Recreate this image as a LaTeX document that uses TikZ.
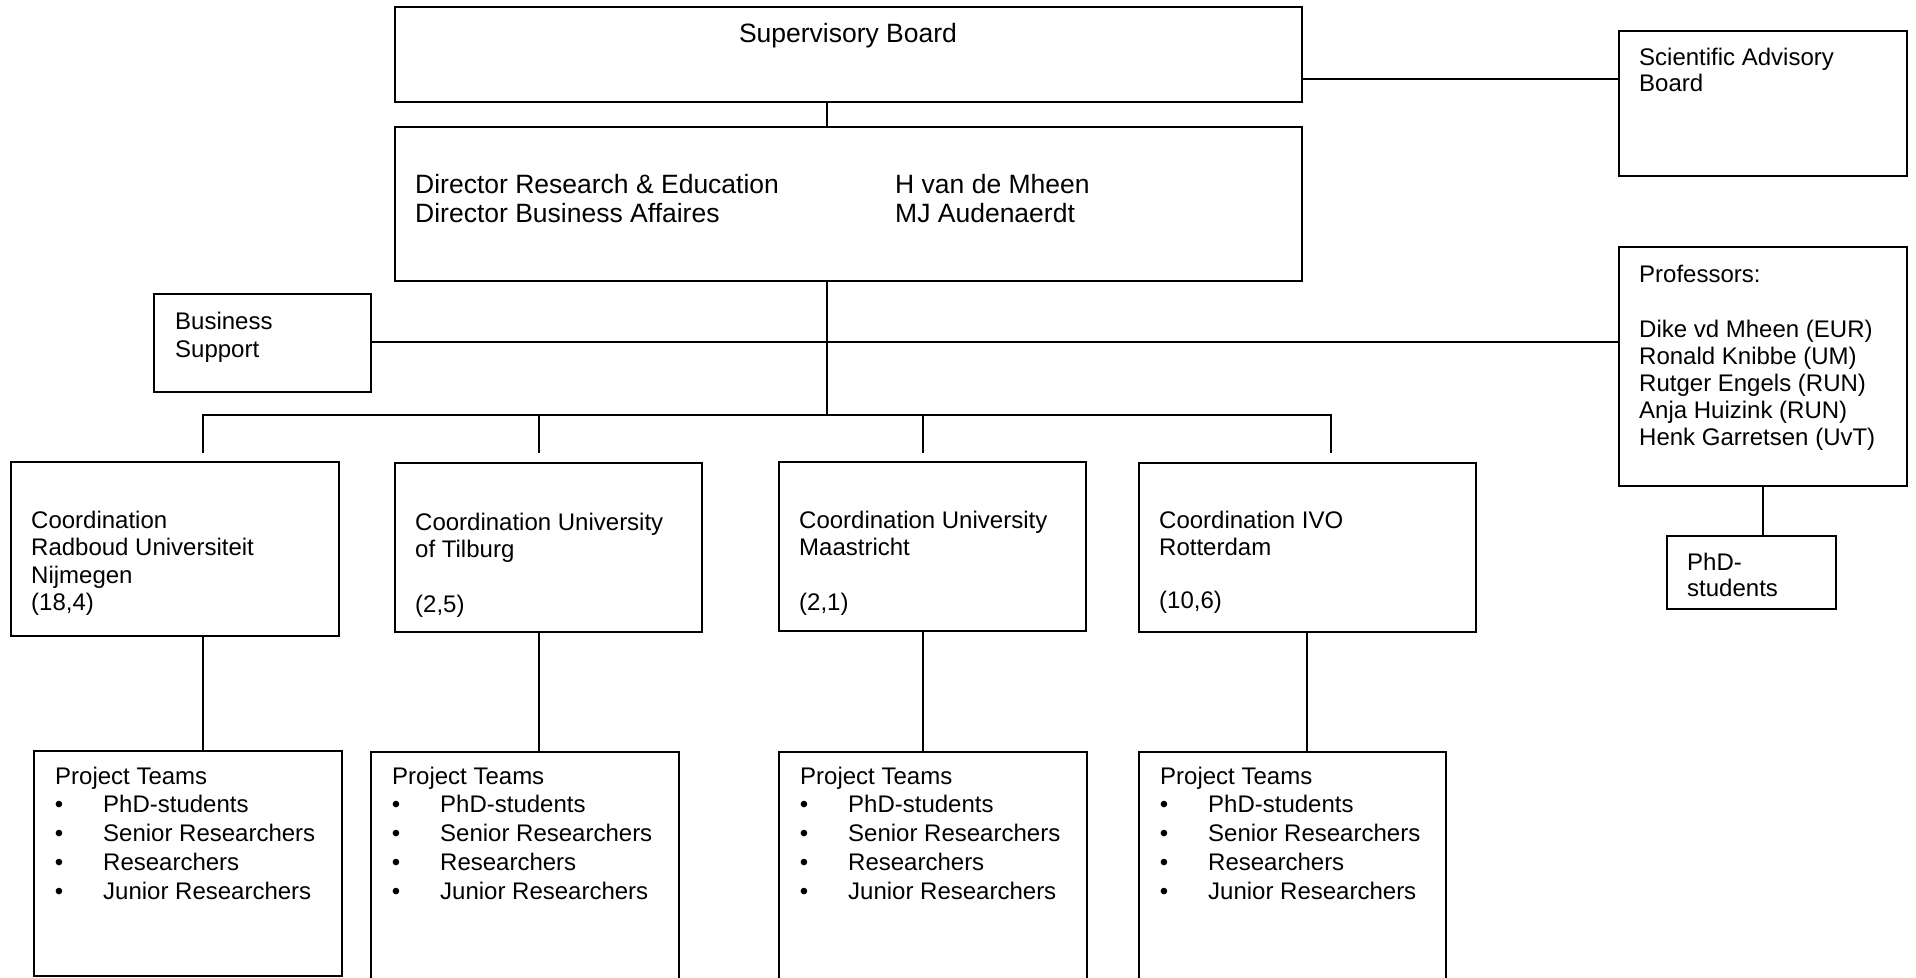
\documentclass[tikz,border=0pt]{standalone}
\usepackage{fontspec}
\setmainfont{Liberation Sans}
\begin{document}
\begin{tikzpicture}[x=1pt,y=-1pt,
  box/.style={draw, line width=1.5pt, rectangle, inner sep=0pt, outer sep=0pt, anchor=north west},
  conn/.style={line width=1.5pt},
  txt/.style={inner sep=0pt, anchor=base west, font=\fontsize{24}{28}\selectfont},
  bigtxt/.style={inner sep=0pt, anchor=base west, font=\fontsize{26.5}{30}\selectfont}]
\useasboundingbox (0,0) rectangle (1916,977);

% boxes
\node[box, minimum width=907pt, minimum height=95pt]  (sup)  at (395,7) {};
\node[box, minimum width=907pt, minimum height=154pt] (dir)  at (395,127) {};
\node[box, minimum width=288pt, minimum height=145pt] (sab)  at (1619,31) {};
\node[box, minimum width=288pt, minimum height=239pt] (prof) at (1619,247) {};
\node[box, minimum width=169pt, minimum height=73pt]  (phd)  at (1667,536) {};
\node[box, minimum width=217pt, minimum height=98pt]  (bs)   at (154,294) {};
\node[box, minimum width=328pt, minimum height=174pt] (c1)   at (11,462) {};
\node[box, minimum width=307pt, minimum height=169pt] (c2)   at (395,463) {};
\node[box, minimum width=307pt, minimum height=169pt] (c3)   at (779,462) {};
\node[box, minimum width=337pt, minimum height=169pt] (c4)   at (1139,463) {};
\node[box, minimum width=308pt, minimum height=225pt] (p1)   at (34,751) {};
\node[box, minimum width=308pt, minimum height=240pt] (p2)   at (371,752) {};
\node[box, minimum width=308pt, minimum height=240pt] (p3)   at (779,752) {};
\node[box, minimum width=307pt, minimum height=240pt] (p4)   at (1139,752) {};

% connectors
\coordinate (bl) at (203,415);
\coordinate (brr) at (1331,415);
\coordinate (bmid) at (827,415);
\coordinate (d1) at (203,453);
\coordinate (d2) at (539,453);
\coordinate (d3) at (923,453);
\coordinate (d4) at (1331,453);
\draw[conn] (827,0 |- sup.south) -- (827,0 |- dir.north);
\draw[conn] (sup.east |- 0,79) -- (sab.west |- 0,79);
\draw[conn] (827,0 |- dir.south) -- (bmid);
\draw[conn] (bs.east |- 0,342) -- (prof.west |- 0,342);
\draw[conn] (d1) -- (bl) -- (brr) -- (d4);
\draw[conn] (539,415) -- (d2);
\draw[conn] (923,415) -- (d3);
\draw[conn] (203,0 |- c1.south) -- (203,0 |- p1.north);
\draw[conn] (539,0 |- c2.south) -- (539,0 |- p2.north);
\draw[conn] (923,0 |- c3.south) -- (923,0 |- p3.north);
\draw[conn] (1307,0 |- c4.south) -- (1307,0 |- p4.north);
\draw[conn] (1763,0 |- prof.south) -- (1763,0 |- phd.north);

% texts
\node[bigtxt, anchor=base] (tsup) at (848,42) {Supervisory Board};
\node[bigtxt] (td1) at (415,193) {Director Research \& Education};
\node[bigtxt] (td2) at (415,222) {Director Business Affaires};
\node[bigtxt] (td3) at (895,193) {H van de Mheen};
\node[bigtxt] (td4) at (895,222) {MJ Audenaerdt};

\node[txt] (tsab1) at (1639,65) {Scientific Advisory};
\node[txt] (tsab2) at (1639,91) {Board};

\node[txt] (tpr0) at (1639,282) {Professors:};
\node[txt] (tpr1) at (1639,337) {Dike vd Mheen (EUR)};
\node[txt] (tpr2) at (1639,364) {Ronald Knibbe (UM)};
\node[txt] (tpr3) at (1639,391) {Rutger Engels (RUN)};
\node[txt] (tpr4) at (1639,418) {Anja Huizink (RUN)};
\node[txt] (tpr5) at (1639,445) {Henk Garretsen (UvT)};

\node[txt] (tphd1) at (1687,570) {PhD-};
\node[txt] (tphd2) at (1687,596) {students};

\node[txt] (tbs1) at (175,329) {Business};
\node[txt] (tbs2) at (175,357) {Support};

\node[txt] (tc11) at (31,528) {Coordination};
\node[txt] (tc12) at (31,555.5) {Radboud Universiteit};
\node[txt] (tc13) at (31,583) {Nijmegen};
\node[txt] (tc14) at (31,610.5) {(18,4)};

\node[txt] (tc21) at (415,530) {Coordination University};
\node[txt] (tc22) at (415,557.5) {of Tilburg};
\node[txt] (tc24) at (415,612.5) {(2,5)};

\node[txt] (tc31) at (799,528) {Coordination University};
\node[txt] (tc32) at (799,555.5) {Maastricht};
\node[txt] (tc34) at (799,610.5) {(2,1)};

\node[txt] (tc41) at (1159,528) {Coordination IVO};
\node[txt] (tc42) at (1159,555.5) {Rotterdam};
\node[txt] (tc44) at (1159,608) {(10,6)};

\foreach \n/\xl in {1/34, 2/371, 3/779, 4/1139} {
  \node[txt] (pt\n) at ({\xl+21},784) {Project Teams};
  \foreach \k/\t in {1/PhD-students, 2/Senior Researchers, 3/Researchers, 4/Junior Researchers} {
    \node[txt, anchor=base] (pb\n\k) at ({\xl+25},{784+28.8*\k}) {•};
    \node[txt] (pi\n\k) at ({\xl+69},{784+28.8*\k}) {\t};
  }
}
\end{tikzpicture}
\end{document}
